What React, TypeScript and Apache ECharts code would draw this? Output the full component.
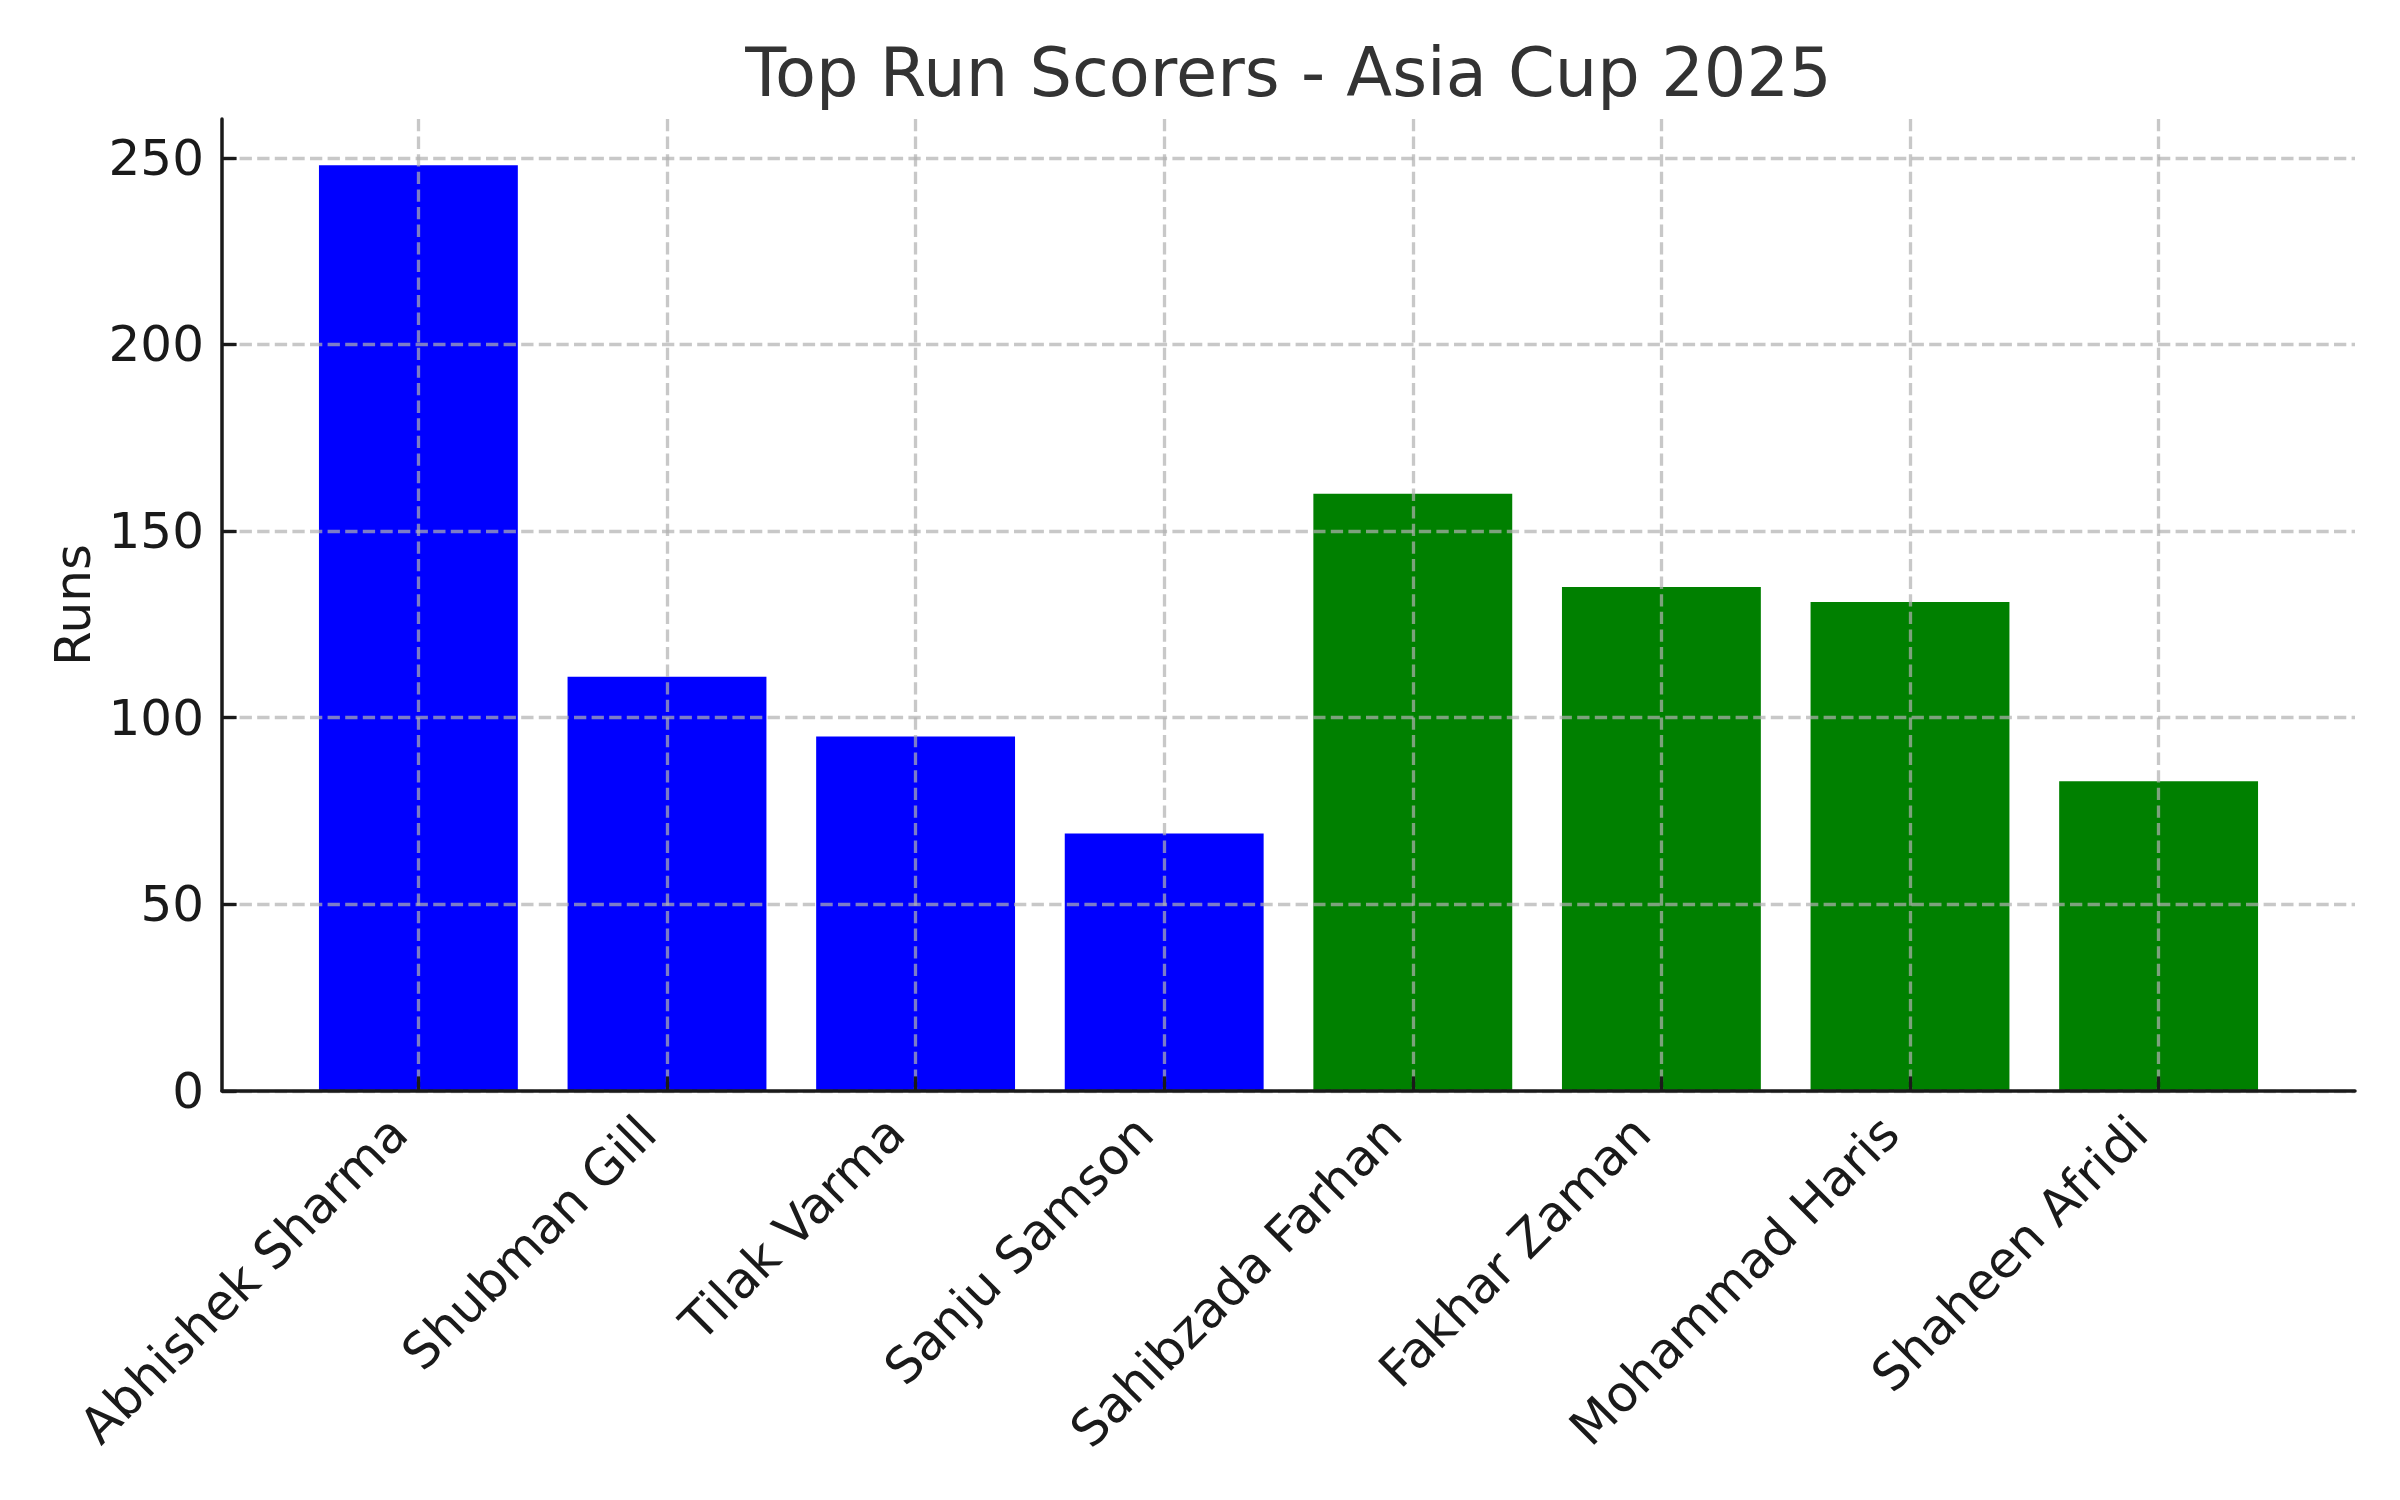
import React, { useEffect, useRef } from "react";
import * as echarts from "echarts";

// data
const players = [
  "Abhishek Sharma",
  "Shubman Gill",
  "Tilak Varma",
  "Sanju Samson",
  "Sahibzada Farhan",
  "Fakhar Zaman",
  "Mohammad Haris",
  "Shaheen Afridi",
];
const runs = [248, 111, 95, 69, 160, 135, 131, 83];
const barColors = [
  "#0000ff", "#0000ff", "#0000ff", "#0000ff",
  "#008000", "#008000", "#008000", "#008000",
];
const yMax = 260.4; // top of the axis
const yTickMax = 250; // last labelled tick
const yStep = 50;

// layout (px on the 2400x1500 canvas)
const W = 2400;
const H = 1500;
const plotLeft = 222;
const plotRight = 2355;
const plotTop = 119;
const plotBottom = 1091;
// matplotlib style: bars 0.8 wide, 5% margin on the data span
const span = (players.length - 1 + 0.8) * 1.1;
const band = (plotRight - plotLeft) / span;
const firstCenter = plotLeft + band * (0.4 + 0.05 * (players.length - 1 + 0.8));
const lastCenter = firstCenter + band * (players.length - 1);
// grid holding the y ticks stops at the last tick so no tick is drawn at the axis top
const tickTop = plotBottom - ((plotBottom - plotTop) * yTickMax) / yMax;

const FONT = "DejaVu Sans";
const INK = "#1a1a1a";
const gridLine = {
  show: true,
  lineStyle: { color: "rgba(176,176,176,0.7)", width: 3.3, type: [12.3, 5.3] },
};
const hiddenValueAxis = (gridIndex: number, max: number) => ({
  gridIndex,
  type: "value",
  min: 0,
  max,
  show: false,
});

const App: React.FC = () => {
  const chartRef = useRef<HTMLDivElement>(null);

  useEffect(() => {
    const chart = echarts.init(chartRef.current!, null, { renderer: "svg" });

    const option: any = {
      animation: false,
      backgroundColor: "#ffffff",
      textStyle: { fontFamily: FONT },
      graphic: [
        {
          type: "text",
          x: (plotLeft + plotRight) / 2,
          y: 73,
          style: {
            text: "Top Run Scorers - Asia Cup 2025",
            fontSize: 67,
            fontFamily: FONT,
            fill: "#333333",
            align: "center",
            textAlign: "center",
            verticalAlign: "middle",
            textVerticalAlign: "middle",
          },
        },
      ],
      grid: [
        // 0: frame (spines)
        { left: plotLeft, right: W - plotRight, top: plotTop, bottom: H - plotBottom },
        // 1: bar centres
        { left: firstCenter, right: W - lastCenter, top: plotTop, bottom: H - plotBottom },
        // 2: y ticks 0..250
        { left: plotLeft, right: W - plotRight, top: tickTop, bottom: H - plotBottom },
      ],
      xAxis: [
        {
          gridIndex: 0,
          type: "value",
          min: 0,
          max: 1,
          z: 3,
          axisLine: { show: true, lineStyle: { color: INK, width: 3.5 } },
          axisTick: { show: false },
          axisLabel: { show: false },
          splitLine: { show: false },
        },
        {
          gridIndex: 1,
          type: "value",
          min: 0,
          max: players.length - 1,
          interval: 1,
          z: 3,
          axisLine: { show: false },
          axisTick: {
            show: true,
            inside: true,
            length: 14.6,
            lineStyle: { color: INK, width: 3.3 },
          },
          axisLabel: {
            formatter: (v: number) => players[Math.round(v)] ?? "",
            rotate: 45,
            margin: 14,
            padding: [0, 28, 0, 0],
            fontSize: 50,
            fontFamily: FONT,
            color: INK,
          },
          splitLine: gridLine,
        },
        hiddenValueAxis(2, 1),
      ],
      yAxis: [
        {
          gridIndex: 0,
          type: "value",
          min: 0,
          max: yMax,
          z: 3,
          name: "Runs",
          nameLocation: "middle",
          nameRotate: 90,
          nameGap: 124,
          nameTextStyle: { fontSize: 50, fontFamily: FONT, color: INK },
          axisLine: { show: true, lineStyle: { color: INK, width: 3.5 } },
          axisTick: { show: false },
          axisLabel: { show: false },
          splitLine: { show: false },
        },
        hiddenValueAxis(1, yMax),
        {
          gridIndex: 2,
          type: "value",
          min: 0,
          max: yTickMax,
          interval: yStep,
          z: 3,
          axisLine: { show: false },
          axisTick: {
            show: true,
            inside: true,
            length: 14.6,
            lineStyle: { color: INK, width: 3.3 },
          },
          axisLabel: {
            margin: 18,
            fontSize: 50,
            fontFamily: FONT,
            color: INK,
          },
          splitLine: gridLine,
        },
      ],
      series: [
        {
          type: "bar",
          xAxisIndex: 1,
          yAxisIndex: 1,
          barWidth: band * 0.8,
          data: runs.map((v, i) => ({
            value: [i, v],
            itemStyle: { color: barColors[i] },
          })),
        },
      ],
    };

    chart.setOption(option);

    return () => {
      chart.dispose();
    };
  }, []);

  return (
    <div
      ref={chartRef}
      style={{ position: "absolute", left: 0, top: 0, width: W, height: H, background: "#fff" }}
    ></div>
  );
};

export default App;
